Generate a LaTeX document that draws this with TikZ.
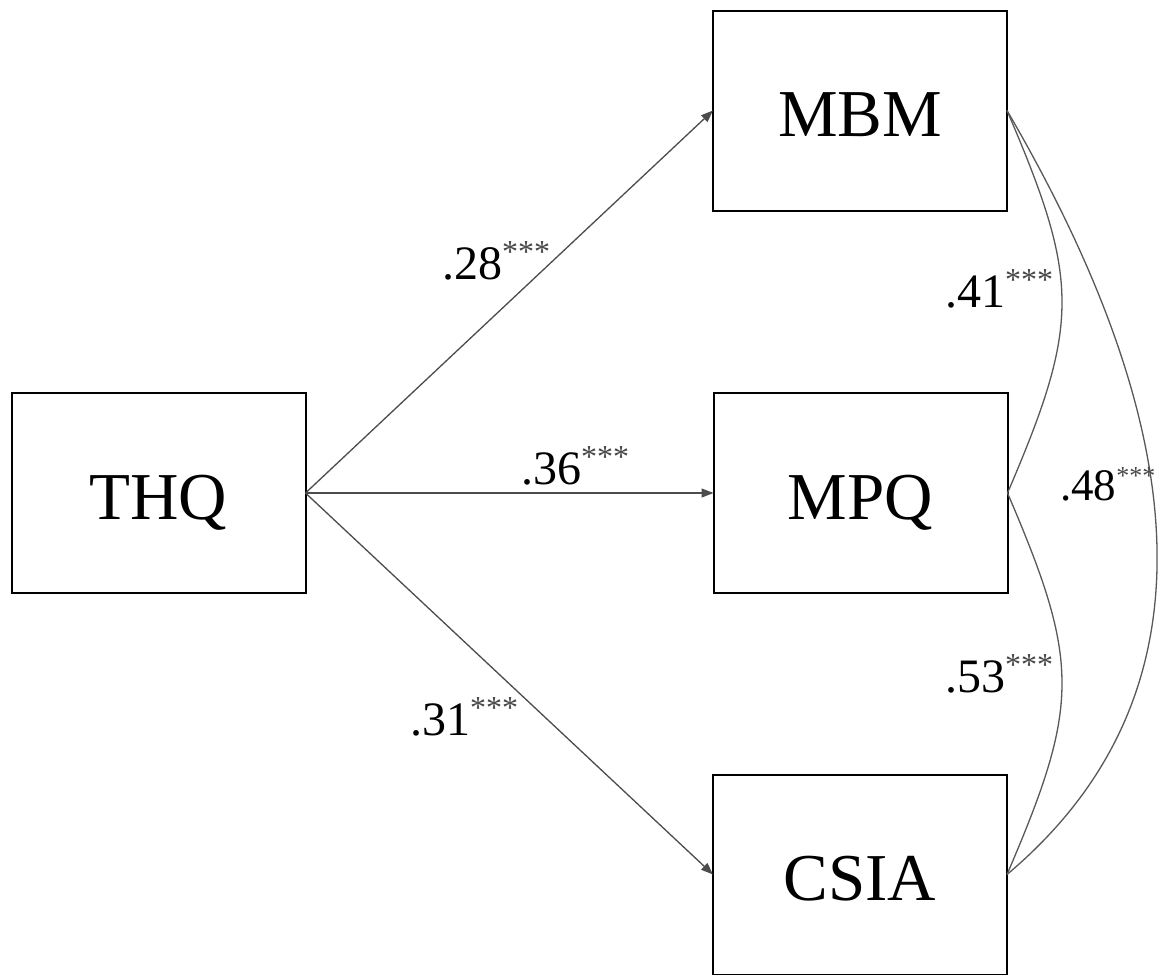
\documentclass[tikz,border=0pt]{standalone}
\usepackage{fontspec}
\setmainfont{Liberation Serif}
\usetikzlibrary{arrows.meta}
\newcommand\sigstars{\raisebox{17pt}{\textcolor{black!72}{\fontsize{32}{32}\selectfont ***}}}
\newcommand\sigstarssmall{\raisebox{16pt}{\textcolor{black!72}{\fontsize{26}{26}\selectfont ***}}}
\begin{document}
\begin{tikzpicture}[x=1pt,y=-1pt,
  varbox/.style={draw=black,line width=2pt,minimum width=294pt,minimum height=200pt,
    inner sep=0pt,outer sep=0pt,text height=52pt,text depth=0pt,
    font=\fontsize{67}{67}\selectfont},
  pathline/.style={draw=black!70,line width=1.3pt,-{Triangle[length=12pt,width=9pt]}},
  corr/.style={draw=black!65,line width=1.3pt},
  coef/.style={anchor=base west,inner sep=0pt,font=\fontsize{48}{48}\selectfont},
  coefsmall/.style={anchor=base west,inner sep=0pt,font=\fontsize{45}{45}\selectfont}
]
\useasboundingbox[fill=white] (0,0) rectangle (1160,975);
\node[varbox] (THQ) at (158.5,493) {THQ};
\node[varbox] (MBM) at (860,110.5) {MBM};
\node[varbox] (MPQ) at (860.5,493) {MPQ};
\node[varbox] (CSIA) at (860,874.5) {CSIA};

\draw[pathline] (THQ.east) -- (MBM.west);
\draw[pathline] (THQ.east) -- (MPQ.west);
\draw[pathline] (THQ.east) -- (CSIA.west);

\draw[corr] (MBM.east) .. controls +(73,170) and +(73,-170) .. (MPQ.east);
\draw[corr] (MPQ.east) .. controls +(73,170) and +(73,-170) .. (CSIA.east);
\draw[corr] (MBM.east) .. controls +(210,360) and +(190,-160) .. (CSIA.east);

\node[coef] (l28) at (442,279) {.28\sigstars};
\node[coef] (l36) at (521,484) {.36\sigstars};
\node[coef] (l31) at (410,735) {.31\sigstars};
\node[coef] (l41) at (945,307) {.41\sigstars};
\node[coefsmall] (l48) at (1060,500) {.48\sigstarssmall};
\node[coef] (l53) at (945,692) {.53\sigstars};
\end{tikzpicture}
\end{document}
